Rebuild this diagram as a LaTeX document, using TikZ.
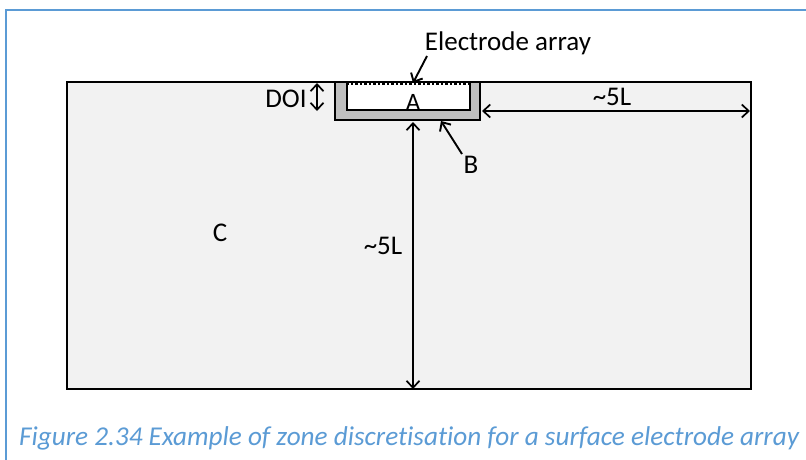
\documentclass[tikz,border=0pt]{standalone}
\usepackage{fontspec}
\setmainfont{Carlito}[Ligatures={NoCommon,NoRare}]
\usetikzlibrary{arrows.meta}
\definecolor{zonec}{HTML}{F2F2F2}
\definecolor{zoneb}{HTML}{BFBFBF}
\definecolor{capblue}{HTML}{5B9BD5}
\begin{document}
\begin{tikzpicture}[x=1pt,y=-1pt,
  lbl/.style={inner sep=0pt, font=\fontsize{27}{30}\selectfont},
  smlbl/.style={inner sep=0pt, font=\fontsize{25}{28}\selectfont},
  dimarrow/.style={line width=1.7pt, {Straight Barb[length=7pt,width=13pt]}-{Straight Barb[length=7pt,width=13pt]}},
  ptr/.style={line width=1.9pt, -{Straight Barb[length=7pt,width=13pt]}}]
\useasboundingbox (0,0) rectangle (806,460);
\fill[white] (0,0) rectangle (806,460);
% frame
\draw[capblue, line width=2pt] (806,10) -- (6,10) -- (6,460);
% zone C
\draw[fill=zonec, line width=1.8pt] (67,82) rectangle (751,389);
% zone B
\draw[fill=zoneb, line width=2.2pt] (335,82) rectangle (480,120);
% zone A
\draw[fill=white, line width=2pt] (347,82) -- (347,110) -- (470,110) -- (470,82);
\draw[line width=2pt] (335,82) -- (480,82);
% electrodes
\draw[line width=3pt, dash pattern=on 2.5pt off 2pt] (346,84) -- (470,84);
% coordinates
\coordinate (aTop) at (413,83);
\coordinate (bBot) at (413,122);
\coordinate (cBot) at (413,389);
\coordinate (bRight) at (482,111);
\coordinate (cRight) at (750,111);
\coordinate (doiT) at (317,83);
\coordinate (doiB) at (317,111);
\coordinate (bEdge) at (441,121);
% labels
\node[lbl] (elec) at (508,43) {Electrode array};
\node[smlbl] (A) at (413,102) {A};
\node[lbl] (B) at (471,165) {B};
\node[lbl] (C) at (220,233) {C};
\node[lbl] (doi) at (286,99) {DOI};
\node[lbl] (L1) at (612,97) {\char126 5L};
\node[lbl] (L2) at (383,246) {\char126 5L};
% arrows
\draw[ptr] (427,56) -- (aTop);
\draw[ptr] (462,154) -- (bEdge);
\draw[dimarrow] (doiT) -- (doiB);
\draw[dimarrow] (bRight) -- (cRight);
\draw[dimarrow] (bBot) -- (cBot);
% caption
\node[inner sep=0pt, anchor=west, text=capblue, font=\itshape\fontsize{27.2}{30}\selectfont] (cap) at (19,438) {Figure 2.34 Example of zone discretisation for a surface electrode array};
\end{tikzpicture}
\end{document}
